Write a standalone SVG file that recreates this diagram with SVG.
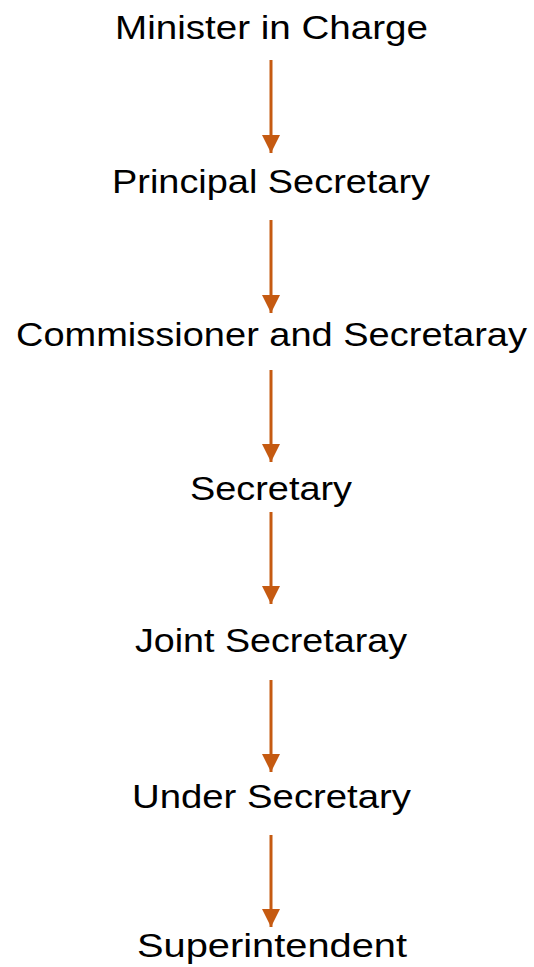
<svg xmlns="http://www.w3.org/2000/svg" width="534" height="967" viewBox="0 0 534 967">
<style>
.t{font-family:"Liberation Sans","Open Sans",Arial,sans-serif;font-size:34px;fill:#000;text-anchor:middle}
.c{stroke:#C55A11;stroke-width:3;fill:none}
</style>
<defs>
<marker id="ah" markerUnits="userSpaceOnUse" markerWidth="18" markerHeight="18" viewBox="0 0 16 16" refX="16" refY="8" orient="auto">
<path d="M0,0 L16,8 L0,16 Z" fill="#C55A11"/>
</marker>
</defs>
<rect width="534" height="967" fill="#fff"/>
<g id="connectors">
<line class="c" x1="271" y1="60" x2="271" y2="153" marker-end="url(#ah)"/>
<line class="c" x1="271" y1="220" x2="271" y2="313" marker-end="url(#ah)"/>
<line class="c" x1="271" y1="370" x2="271" y2="462" marker-end="url(#ah)"/>
<line class="c" x1="271" y1="512" x2="271" y2="604" marker-end="url(#ah)"/>
<line class="c" x1="271" y1="680" x2="271" y2="772" marker-end="url(#ah)"/>
<line class="c" x1="271" y1="835" x2="271" y2="927" marker-end="url(#ah)"/>
</g>
<g id="n1"><text class="t" x="271.5" y="39" textLength="313" lengthAdjust="spacingAndGlyphs">Minister in Charge</text></g>
<g id="n2"><text class="t" x="271" y="193" textLength="318" lengthAdjust="spacingAndGlyphs">Principal Secretary</text></g>
<g id="n3"><text class="t" x="271.5" y="346" textLength="511" lengthAdjust="spacingAndGlyphs">Commissioner and Secretaray</text></g>
<g id="n4"><text class="t" x="271" y="500" textLength="162" lengthAdjust="spacingAndGlyphs">Secretary</text></g>
<g id="n5"><text class="t" x="271" y="652" textLength="272" lengthAdjust="spacingAndGlyphs">Joint Secretaray</text></g>
<g id="n6"><text class="t" x="271.5" y="808" textLength="279" lengthAdjust="spacingAndGlyphs">Under Secretary</text></g>
<g id="n7"><text class="t" x="272" y="957" textLength="270" lengthAdjust="spacingAndGlyphs">Superintendent</text></g>
</svg>
